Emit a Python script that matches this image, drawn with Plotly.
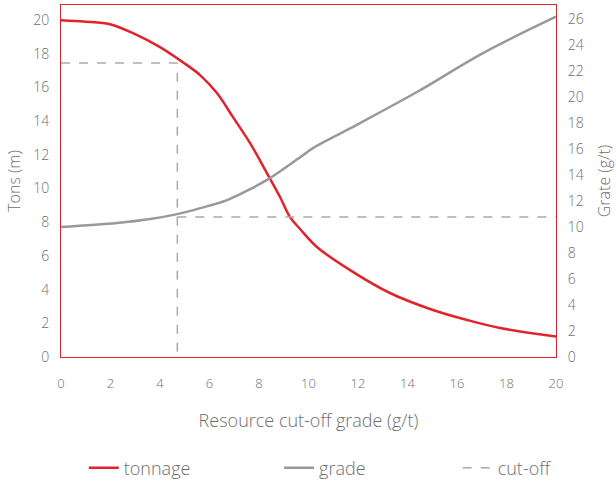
import plotly.graph_objects as go

# Data
tonnage_x = [0, 1.58, 1.98, 2.91, 4.0, 5.09, 5.62, 6.30, 6.95, 7.64, 8.32, 8.85, 9.25, 9.66, 10.34, 11.68, 13.29, 15.03, 16.40, 17.74, 20.0]
tonnage_y = [20.0, 19.85, 19.76, 19.23, 18.4, 17.33, 16.74, 15.67, 14.24, 12.70, 10.92, 9.50, 8.31, 7.6, 6.53, 5.16, 3.80, 2.79, 2.20, 1.72, 1.22]

grade_x = [0, 2.26, 3.60, 4.69, 5.62, 6.71, 7.64, 8.44, 9.66, 10.18, 11.68, 14.38, 17.05, 20.0]
grade_y = [10.0, 10.31, 10.62, 11.0, 11.46, 12.08, 12.92, 13.77, 15.38, 16.08, 17.6, 20.4, 23.4, 26.2]

cutoff_grade = 4.7        # x
cutoff_tons = 17.45       # left axis
cutoff_avg_grade = 10.77  # right axis

x_ticks = list(range(0, 21, 2))
y_ticks = list(range(0, 21, 2))
y2_ticks = list(range(0, 27, 2))

RED = "#e1232b"
GREY = "#999999"
DASH = "#aaaaaa"
TXT = "#6e6e6e"
FONT = "Open Sans"

fig = go.Figure()
fig.add_trace(go.Scatter(x=tonnage_x, y=tonnage_y, mode="lines", name="tonnage", legend="legend",
                         line=dict(color=RED, width=2.5, shape="spline", smoothing=1.0)))
fig.add_trace(go.Scatter(x=grade_x, y=grade_y, mode="lines", name="grade", yaxis="y2", legend="legend2",
                         line=dict(color=GREY, width=2.5, shape="spline", smoothing=1.0)))
fig.add_trace(go.Scatter(x=[0, cutoff_grade, cutoff_grade], y=[cutoff_tons, cutoff_tons, 0],
                         mode="lines", name="cut-off", legend="legend3",
                         line=dict(color=DASH, width=1.5, dash="dash")))
fig.add_trace(go.Scatter(x=[cutoff_grade, 20], y=[cutoff_avg_grade, cutoff_avg_grade],
                         mode="lines", name="cut-off", yaxis="y2", showlegend=False,
                         line=dict(color=DASH, width=1.5, dash="dash")))

def leg(xpos):
    return dict(orientation="h", xref="container", x=xpos, xanchor="left",
                yref="container", y=0.037, yanchor="middle",
                font=dict(size=18, color=TXT, weight=300))

fig.update_layout(
    width=616, height=486,
    margin=dict(l=61, r=60, t=5, b=129, autoexpand=False),
    paper_bgcolor="white", plot_bgcolor="white",
    font=dict(family=FONT, color=TXT, size=14, weight=300),
    showlegend=True,
    legend=leg(0.136), legend2=leg(0.453), legend3=leg(0.743),
    xaxis=dict(range=[0, 20], tickvals=x_ticks, showgrid=False, zeroline=False,
               showline=True, linecolor=RED, linewidth=1, mirror=True, automargin=False,
               ticks="outside", ticklen=14, tickcolor="rgba(0,0,0,0)",
               tickfont=dict(size=13, weight=300),
               title=dict(text="Resource cut-off grade (g/t)", font=dict(size=18, weight=300), standoff=23)),
    yaxis=dict(range=[0, 20.9], tickvals=y_ticks, showgrid=False, zeroline=False,
               showline=True, linecolor=RED, linewidth=1, mirror=True, automargin=False,
               ticks="outside", ticklen=8, tickcolor="rgba(0,0,0,0)",
               tickfont=dict(size=14, weight=300),
               title=dict(text="Tons (m)", font=dict(size=16, weight=300), standoff=8)),
    yaxis2=dict(range=[0, 27.1], tickvals=y2_ticks, overlaying="y", side="right",
                showgrid=False, zeroline=False, showline=False, automargin=False,
                ticks="outside", ticklen=8, tickcolor="rgba(0,0,0,0)",
                tickfont=dict(size=14, weight=300),
                title=dict(text="Grate (g/t)", font=dict(size=16, weight=300), standoff=16)),
)

fig.write_html("out.html", config={"displayModeBar": False},
               post_script="document.body.style.margin='0';")
